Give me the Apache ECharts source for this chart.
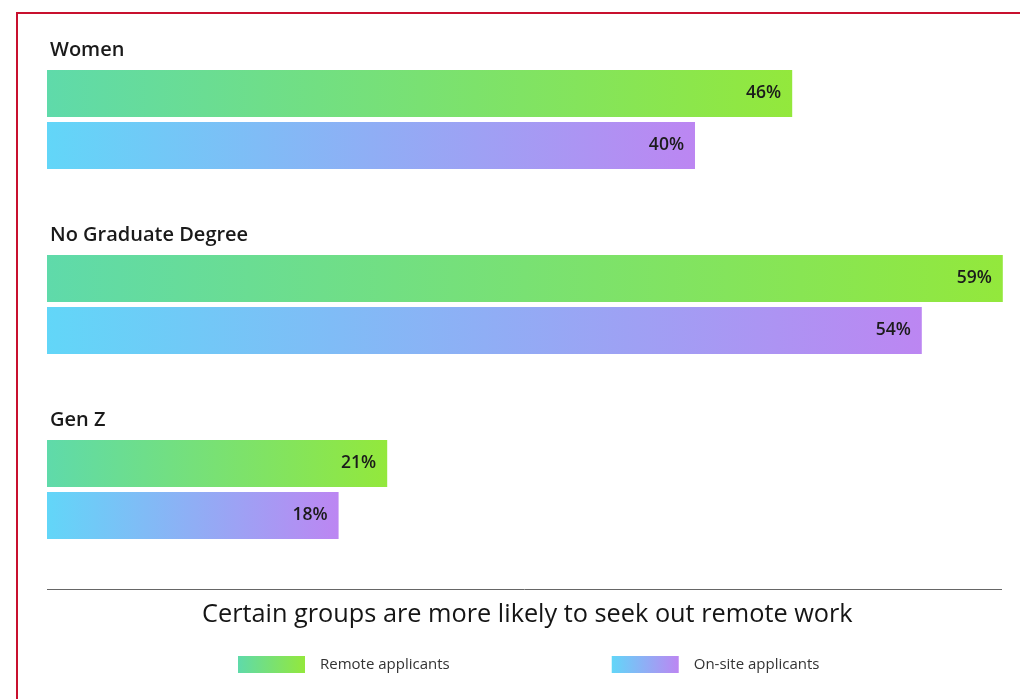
<!DOCTYPE html>
<html>
<head>
<meta charset="utf-8">
<script src="https://cdn.jsdelivr.net/npm/echarts@6/dist/echarts.min.js"></script>
<style>
html,body{margin:0;padding:0;background:#fff;}
#c{width:1020px;height:699px;}
</style>
</head>
<body>
<div id="c"></div>
<script>
const categories = ['Women', 'No Graduate Degree', 'Gen Z'];
const remoteValues = [46, 59, 21];
const onsiteValues = [40, 54, 18];
const seriesNames = ['Remote applicants', 'On-site applicants'];
const titleText = 'Certain groups are more likely to seek out remote work';

const FONT = '"Open Sans", "Noto Sans", sans-serif';
const grad = (a, b) => new echarts.graphic.LinearGradient(0, 0, 1, 0, [
  { offset: 0, color: a }, { offset: 1, color: b }
]);
const remoteColor = grad('#5fdaaa', '#93e83c');
const onsiteColor = grad('#62d6f8', '#bc86f2');

const valueLabel = {
  show: true, position: 'insideRight', distance: 11,
  formatter: '{c}%', fontSize: 17.5, fontWeight: 600,
  color: '#1b1b1b', fontFamily: FONT
};

const chart = echarts.init(document.getElementById('c'));
chart.setOption({
  animation: false,
  backgroundColor: '#fff',
  title: {
    text: titleText, left: 197, top: 597,
    textStyle: { fontSize: 25.3, fontWeight: 500, color: '#151515', fontFamily: FONT }
  },
  legend: {
    top: 651, left: 233, itemWidth: 67, itemHeight: 17, itemGap: 162,
    icon: 'rect',
    textStyle: { fontSize: 15, color: '#333', fontFamily: FONT, padding: [0, 0, 0, 10] },
    data: seriesNames
  },
  grid: { left: 47, right: 1, top: 27, bottom: 117 },
  xAxis: { type: 'value', min: 0, max: 60, show: false },
  yAxis: {
    type: 'category', inverse: true, data: categories,
    axisLine: { show: false }, axisTick: { show: false }, splitLine: { show: false },
    z: 10,
    axisLabel: {
      inside: true, align: 'left', margin: 3, verticalAlign: 'middle',
      formatter: v => '{n|' + v + '}\n{s| }',
      rich: {
        n: { fontSize: 20, fontWeight: 600, color: '#1a1a1a', fontFamily: FONT, lineHeight: 26, align: 'left' },
        s: { height: 139, lineHeight: 139, fontSize: 1 }
      }
    }
  },
  series: [
    { name: seriesNames[0], type: 'bar', data: remoteValues, barWidth: 47, barGap: '10.6%',
      itemStyle: { color: remoteColor }, label: valueLabel },
    { name: seriesNames[1], type: 'bar', data: onsiteValues, barWidth: 47,
      itemStyle: { color: onsiteColor }, label: valueLabel }
  ],
  graphic: [
    { type: 'polyline', shape: { points: [[17, 699], [17, 13], [1020, 13]] },
      style: { stroke: '#c8102e', lineWidth: 2, fill: null } },
    { type: 'line', shape: { x1: 47, y1: 589.5, x2: 1002, y2: 589.5 },
      style: { stroke: '#666', lineWidth: 1 } }
  ]
});
</script>
</body>
</html>
